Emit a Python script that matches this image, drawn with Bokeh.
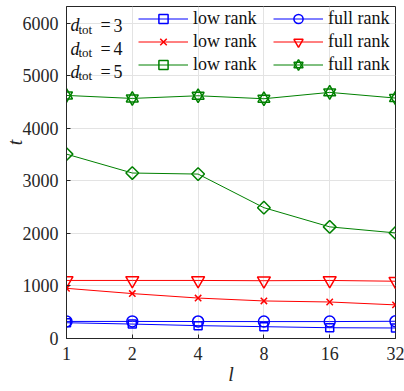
import numpy as np
from bokeh.plotting import figure
from bokeh.models import Legend, LegendItem, Label, FixedTicker, PrintfTickFormatter, Range1d
from bokeh.embed import file_html
from bokeh.resources import INLINE

# ---- data ----
l_values = [1, 2, 4, 8, 16, 32]
y_ticks = [0, 1000, 2000, 3000, 4000, 5000, 6000]
d_tot_values = [3, 4, 5]

low_rank_d3 = [300, 275, 245, 225, 205, 200]
full_rank_d3 = [325, 325, 323, 322, 322, 328]
low_rank_d4 = [955, 855, 770, 715, 695, 640]
full_rank_d4 = [1105, 1105, 1105, 1100, 1105, 1090]
low_rank_d5 = [3510, 3150, 3130, 2490, 2125, 2010]
full_rank_d5 = [4627, 4570, 4621, 4564, 4685, 4577]

FONT = "Liberation Serif"
AX = "#262626"
BLUE, RED, GREEN = "#0000ff", "#ff0000", "#008000"

FH = 332
p = figure(width=404, height=391,
           min_border_left=63, min_border_right=9, min_border_top=6, min_border_bottom=53,
           x_axis_type="log", x_range=Range1d(1, 32), y_range=Range1d(0, 6320),
           output_backend="svg", toolbar_location=None)

p.background_fill_color = "white"
p.border_fill_color = "white"
p.outline_line_color = AX
p.outline_line_width = 1
p.outline_line_alpha = 1

p.xaxis.ticker = FixedTicker(ticks=l_values, minor_ticks=[])
p.xaxis.formatter = PrintfTickFormatter(format="%d")
p.yaxis.ticker = FixedTicker(ticks=y_ticks, minor_ticks=[])
for ax in list(p.xaxis) + list(p.yaxis):
    ax.axis_line_color = AX
    ax.major_tick_line_color = AX
    ax.major_tick_in = 4
    ax.major_tick_out = 0
    ax.minor_tick_line_color = None
    ax.major_label_text_font = FONT
    ax.major_label_text_font_size = "18px"
    ax.major_label_text_color = AX
    ax.major_label_standoff = 8
    ax.axis_label_text_font = FONT
    ax.axis_label_text_font_style = "italic"
    ax.axis_label_text_font_size = "20px"
    ax.axis_label_text_color = AX

p.xaxis.axis_label = "l"
p.xaxis.axis_label_standoff = 0
# leading no-break spaces lift the rotated label towards the top, as in the reference
p.yaxis.axis_label = "\u00a0" * 12 + "t"
p.yaxis.axis_label_standoff = -6

p.xgrid.grid_line_color = "#e3e3e3"
p.ygrid.grid_line_color = "#e3e3e3"
p.xgrid.grid_line_width = 1
p.ygrid.grid_line_width = 1


def series(y, color, markers):
    rs = [p.line(l_values, y, line_color=color, line_width=1)]
    for m in markers:
        rs.append(p.scatter(l_values, y, fill_color=None, line_color=color, line_width=1.5, **m))
    return rs

r_low3 = series(low_rank_d3, BLUE, [dict(marker="square", size=8)])
r_full3 = series(full_rank_d3, BLUE, [dict(marker="circle", size=11)])
r_low4 = series(low_rank_d4, RED, [dict(marker="x", size=9)])
r_full4 = series(full_rank_d4, RED, [dict(marker="inverted_triangle", size=13)])
r_low5 = series(low_rank_d5, GREEN, [dict(marker="square", size=9, angle=np.pi / 4)])
r_full5 = series(full_rank_d5, GREEN, [dict(marker="triangle", size=12),
                                       dict(marker="inverted_triangle", size=12)])

legend_height = 3 * 23


def make_legend(items, x):
    lg = Legend(items=items, location=(x, FH - legend_height - 1),
                glyph_width=50, glyph_height=23, label_height=23, spacing=0,
                padding=0, margin=0, label_standoff=5,
                label_text_font=FONT, label_text_font_size="18px", label_text_color="#111111",
                border_line_color=None, background_fill_alpha=0)
    p.add_layout(lg)

make_legend([LegendItem(label="low rank", renderers=r_low3),
             LegendItem(label="low rank", renderers=r_low4),
             LegendItem(label="low rank", renderers=r_low5)], 72)
make_legend([LegendItem(label="full rank", renderers=r_full3),
             LegendItem(label="full rank", renderers=r_full4),
             LegendItem(label="full rank", renderers=r_full5)], 207)

# d_tot labels
for i, d in enumerate(d_tot_values):
    base = 313.3 - 23.3 * i
    p.add_layout(Label(x=4, y=base, x_units="screen", y_units="screen", text="d",
                       text_font=FONT, text_font_style="italic", text_font_size="18px",
                       text_color="#111111", text_baseline="alphabetic", text_align="left"))
    p.add_layout(Label(x=12, y=base - 4, x_units="screen", y_units="screen", text="tot",
                       text_font=FONT, text_font_size="13px",
                       text_color="#111111", text_baseline="alphabetic", text_align="left"))
    p.add_layout(Label(x=34, y=base, x_units="screen", y_units="screen", text="=",
                       text_font=FONT, text_font_size="18px",
                       text_color="#111111", text_baseline="alphabetic", text_align="left"))
    p.add_layout(Label(x=47, y=base, x_units="screen", y_units="screen", text=str(d),
                       text_font=FONT, text_font_size="18px",
                       text_color="#111111", text_baseline="alphabetic", text_align="left"))

open("out.html", "w").write(file_html(p, INLINE))
